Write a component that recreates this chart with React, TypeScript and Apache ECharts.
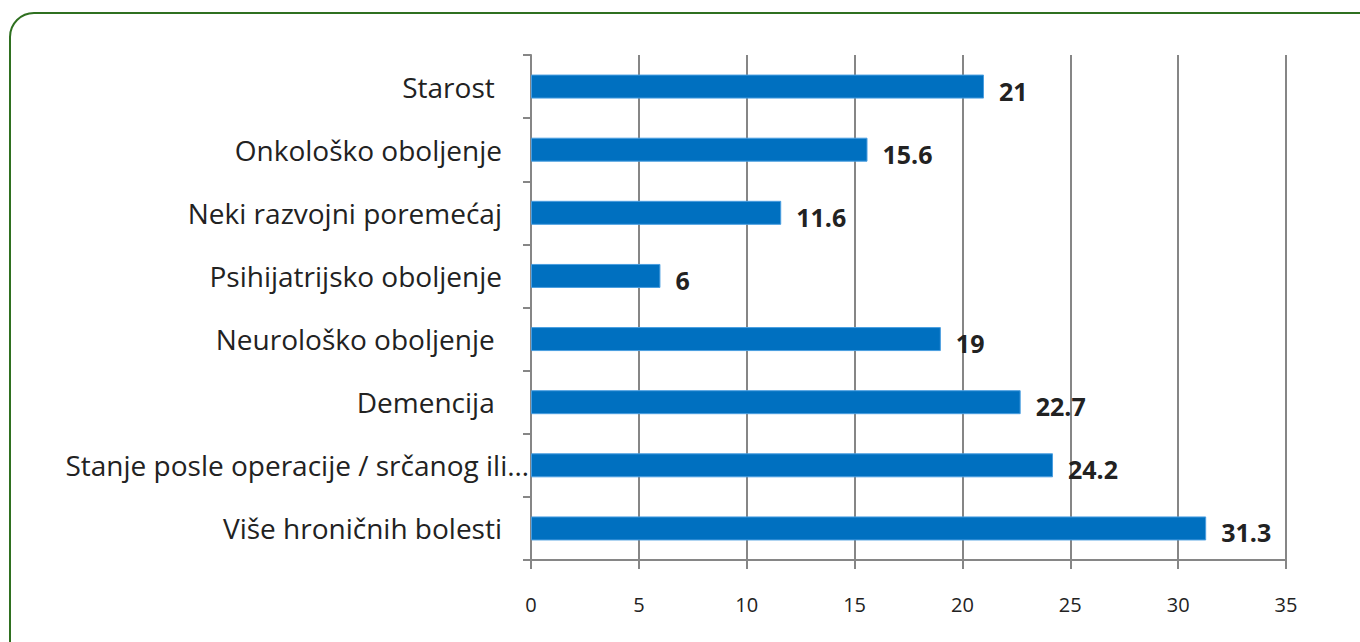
import React, { useEffect, useRef } from "react";
import * as echarts from "echarts";

const categories = [
  "Više hroničnih bolesti",
  "Stanje posle operacije / srčanog ili…",
  "Demencija ",
  "Neurološko oboljenje ",
  "Psihijatrijsko oboljenje",
  "Neki razvojni poremećaj",
  "Onkološko oboljenje",
  "Starost ",
];
const values = [31.3, 24.2, 22.7, 19, 6, 11.6, 15.6, 21];
const xMin = 0;
const xMax = 35;
const xInterval = 5;

export default function App() {
  const ref = useRef<HTMLDivElement>(null);
  useEffect(() => {
    const chart = echarts.init(ref.current!, null, { renderer: "svg" });
    const catData = categories.map((c) =>
      c.endsWith("…") ? { value: c, textStyle: { padding: [0, -27, 0, 0] } } : c
    );
    chart.setOption({
      animation: false,
      backgroundColor: "#ffffff",
      graphic: [
        {
          type: "rect",
          shape: { x: 10, y: 13, width: 1385, height: 660, r: 24 },
          style: { fill: "none", stroke: "#2f7020", lineWidth: 2 },
          z: 0,
        },
      ],
      grid: { left: 531, right: 74, top: 55, bottom: 82, containLabel: false },
      xAxis: {
        type: "value",
        min: xMin,
        max: xMax,
        interval: xInterval,
        axisLine: { show: true, lineStyle: { color: "#868686", width: 2 } },
        axisTick: { show: true, length: 9, lineStyle: { color: "#868686", width: 2 } },
        splitLine: { show: true, lineStyle: { color: "#868686", width: 2 } },
        axisLabel: {
          margin: 34,
          fontSize: 20,
          color: "#222222",
          fontFamily: "Open Sans",
        },
      },
      yAxis: {
        type: "category",
        data: catData,
        axisLine: { show: true, lineStyle: { color: "#868686", width: 2 } },
        axisTick: { show: true, length: 8, lineStyle: { color: "#868686", width: 2 } },
        axisLabel: {
          margin: 29,
          fontSize: 28,
          color: "#222222",
          fontFamily: "Open Sans",
        },
      },
      series: [
        {
          type: "bar",
          data: values,
          barWidth: 24,
          itemStyle: { color: "#0070C0", borderColor: "#4a9ee0", borderWidth: 1 },
          label: {
            show: true,
            position: "right",
            distance: 15,
            offset: [0, 4],
            fontSize: 25,
            fontWeight: "bold",
            color: "#222222",
            fontFamily: "Open Sans",
          },
        },
      ],
    });
    return () => chart.dispose();
  }, []);
  return (
    <div
      ref={ref}
      style={{ position: "fixed", left: 0, top: 0, width: 1360, height: 642 }}
    />
  );
}
